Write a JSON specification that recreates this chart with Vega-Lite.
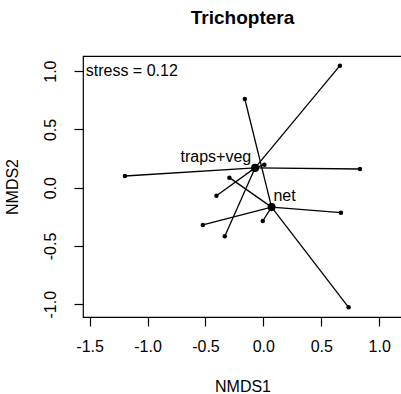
{
  "$schema": "https://vega.github.io/schema/vega-lite/v6.json",
  "width": 319,
  "height": 261,
  "autosize": {"type": "none"},
  "padding": {"left": 83, "top": 56, "right": 0, "bottom": 77},
  "background": "white",
  "config": {
    "font": "Liberation Sans",
    "view": {"stroke": "black", "strokeWidth": 1.2},
    "axis": {
      "grid": false,
      "domain": false,
      "ticks": true,
      "tickColor": "black",
      "tickWidth": 1.2,
      "tickSize": 9,
      "labelFontSize": 16,
      "labelColor": "black",
      "labelFlush": false,
      "labelOverlap": false,
      "titleFontSize": 16,
      "titleFontWeight": "normal",
      "titleColor": "black"
    }
  },
  "title": {
    "text": "Trichoptera",
    "fontSize": 19,
    "fontWeight": "bold",
    "color": "black",
    "anchor": "middle",
    "frame": "group",
    "baseline": "alphabetic",
    "offset": 13
  },
  "data": {
    "values": [
      {"group": "traps+veg", "x": 0.661, "y": 1.047},
      {"group": "traps+veg", "x": 0.834, "y": 0.16},
      {"group": "traps+veg", "x": -1.195, "y": 0.10},
      {"group": "traps+veg", "x": -0.405, "y": -0.069},
      {"group": "traps+veg", "x": -0.333, "y": -0.417},
      {"group": "traps+veg", "x": 0.009, "y": 0.197},
      {"group": "net", "x": -0.160, "y": 0.761},
      {"group": "net", "x": -0.293, "y": 0.086},
      {"group": "net", "x": 0.670, "y": -0.215},
      {"group": "net", "x": -0.522, "y": -0.320},
      {"group": "net", "x": -0.005, "y": -0.286},
      {"group": "net", "x": 0.736, "y": -1.027}
    ]
  },
  "encoding": {
    "x": {
      "field": "x",
      "type": "quantitative",
      "scale": {"domain": [-1.557, 1.197], "nice": false, "zero": false},
      "axis": {
        "title": "NMDS1",
        "values": [-1.5, -1, -0.5, 0, 0.5, 1],
        "labelExpr": "datum.value < 0 ? '-' + format(-datum.value, '.1f') : format(datum.value, '.1f')",
        "labelPadding": 12,
        "titlePadding": 24
      }
    },
    "y": {
      "field": "y",
      "type": "quantitative",
      "scale": {"domain": [-1.11, 1.13], "nice": false, "zero": false},
      "axis": {
        "title": "NMDS2",
        "values": [-1, -0.5, 0, 0.5, 1],
        "labelExpr": "datum.value < 0 ? '-' + format(-datum.value, '.1f') : format(datum.value, '.1f')",
        "labelAngle": -90,
        "labelAlign": "center",
        "labelBaseline": "alphabetic",
        "labelPadding": 19,
        "titlePadding": 22
      }
    }
  },
  "layer": [
    {
      "transform": [
        {
          "joinaggregate": [
            {"op": "mean", "field": "x", "as": "cx"},
            {"op": "mean", "field": "y", "as": "cy"}
          ],
          "groupby": ["group"]
        }
      ],
      "mark": {"type": "rule", "color": "black", "strokeWidth": 1.3},
      "encoding": {
        "x2": {"field": "cx"},
        "y2": {"field": "cy"}
      }
    },
    {
      "mark": {"type": "circle", "color": "black", "opacity": 1, "size": 20}
    },
    {
      "transform": [
        {
          "aggregate": [
            {"op": "mean", "field": "x", "as": "x"},
            {"op": "mean", "field": "y", "as": "y"}
          ],
          "groupby": ["group"]
        }
      ],
      "mark": {"type": "circle", "color": "black", "opacity": 1, "size": 65}
    },
    {
      "data": {
        "values": [
          {"label": "traps+veg", "x": -0.41, "y": 0.261},
          {"label": "net", "x": 0.183, "y": -0.069},
          {"label": "stress = 0.12", "x": -1.136, "y": 1.005}
        ]
      },
      "mark": {"type": "text", "fontSize": 16, "color": "black", "align": "center", "baseline": "middle"},
      "encoding": {
        "text": {"field": "label"}
      }
    }
  ]
}
